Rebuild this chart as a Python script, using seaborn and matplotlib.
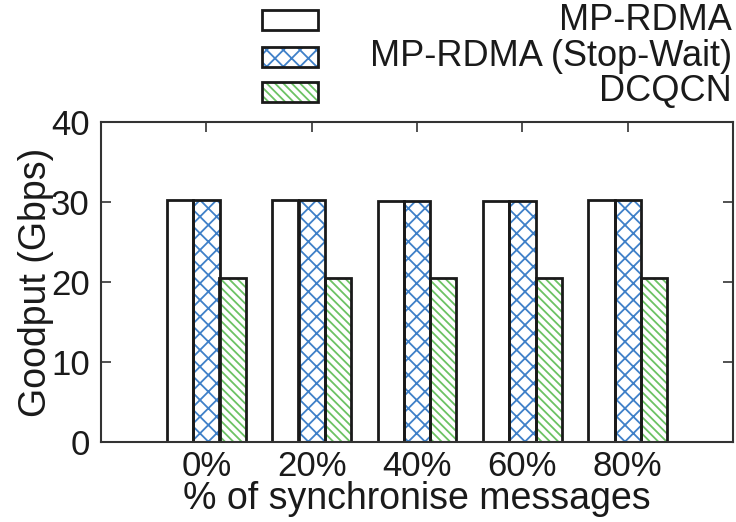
import matplotlib
matplotlib.use("Agg")
import matplotlib.pyplot as plt
import matplotlib.patches as mpatches
import seaborn as sns
import pandas as pd

categories = ["0%", "20%", "40%", "60%", "80%"]
series = ["MP-RDMA", "MP-RDMA (Stop-Wait)", "DCQCN"]
mp_rdma = [30.2, 30.2, 30.1, 30.1, 30.2]
mp_rdma_sw = [30.2, 30.2, 30.1, 30.1, 30.2]
dcqcn = [20.5, 20.5, 20.5, 20.5, 20.5]
yticks = [0, 10, 20, 30, 40]

hatches = ["", "xx", "\\\\\\\\"]
hatch_colors = ["white", "#3f80c8", "#6cc264"]

sns.set_style("white")
plt.rcParams["font.family"] = ["Liberation Sans", "DejaVu Sans"]
plt.rcParams["hatch.linewidth"] = 1.3

rows = []
for name, vals in zip(series, [mp_rdma, mp_rdma_sw, dcqcn]):
    for c, v in zip(categories, vals):
        rows.append({"cat": c, "val": v, "series": name})
df = pd.DataFrame(rows)

fig = plt.figure(figsize=(7.36, 5.22), dpi=100)
ax = fig.add_axes([101/736, 1 - 442/522, (733-101)/736, (442-122)/522])

pal = {s: "white" for s in series}
sns.barplot(data=df, x="cat", y="val", hue="series", order=categories,
            hue_order=series, palette=pal, width=0.75, legend=False,
            errorbar=None, ax=ax, saturation=1)
for cont, h, hc in zip(ax.containers[:3], hatches, hatch_colors):
    for bar in cont:
        bar.set_hatch(h)
        bar.set_edgecolor(hc)
        bar.set_linewidth(0)

sns.barplot(data=df, x="cat", y="val", hue="series", order=categories,
            hue_order=series, palette=pal, width=0.75, legend=False,
            errorbar=None, ax=ax, saturation=1)
for cont in ax.containers[3:]:
    for bar in cont:
        bar.set_facecolor("none")
        bar.set_edgecolor("#1a1a1a")
        bar.set_linewidth(2.0)

ax.set_xlim(-1, 5)
ax.set_ylim(0, 40)
ax.set_yticks(yticks)
ax.set_yticklabels([str(t) for t in yticks])
for sp in ax.spines.values():
    sp.set_visible(True)
    sp.set_linewidth(1.5)
    sp.set_color("#333333")
ax.tick_params(axis="both", direction="in", length=7, width=1.2, color="#333333",
               labelsize=25, labelcolor="#1a1a1a", top=True, right=True,
               bottom=True, left=True)
ax.tick_params(axis="x", pad=6)
ax.tick_params(axis="y", pad=8)
ax.set_xlabel("% of synchronise messages", fontsize=27, labelpad=-2, color="#1a1a1a")
ax.set_ylabel("Goodput (Gbps)", fontsize=27, labelpad=-2, color="#1a1a1a")

# legend (gnuplot style: handle at left, label right-aligned)
leg_y = [20, 57, 92]
for s, h, hc, yc in zip(series, hatches, hatch_colors, leg_y):
    x0 = 262 / 736
    w = 56 / 736
    hgt = 20 / 522
    y0 = 1 - (yc + 10) / 522
    fig.patches.append(mpatches.Rectangle((x0, y0), w, hgt, transform=fig.transFigure,
                                          facecolor="white", edgecolor=hc, hatch=h,
                                          linewidth=0))
    fig.patches.append(mpatches.Rectangle((x0, y0), w, hgt, transform=fig.transFigure,
                                          facecolor="none", edgecolor="#1a1a1a",
                                          linewidth=2.0))
    fig.text(732 / 736, 1 - yc / 522, s, ha="right", va="center", fontsize=26,
             color="#1a1a1a")

fig.savefig("out.png", dpi=100)
